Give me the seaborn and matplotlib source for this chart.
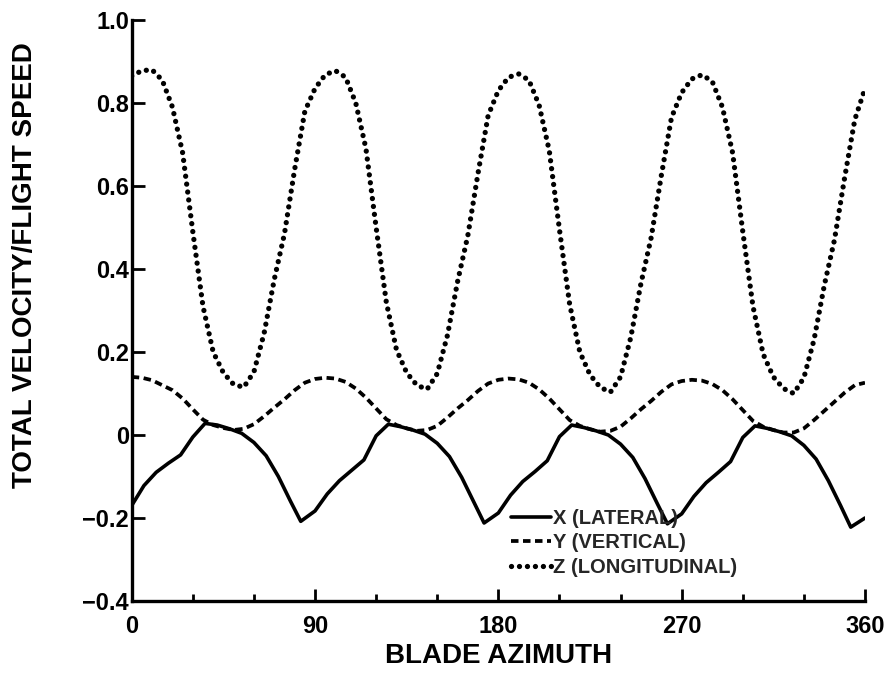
import matplotlib
matplotlib.use("Agg")
import matplotlib.pyplot as plt
import numpy as np
import pandas as pd
import seaborn as sns

# Blade azimuth (deg) for the Y and Z components, 5-degree spacing
azimuth_yz = list(range(0, 361, 5))

# Z (longitudinal) component
z_long = [
    0.865, 0.878, 0.880, 0.855, 0.790, 0.680, 0.490, 0.310, 0.200, 0.150,
    0.122, 0.115, 0.152, 0.245, 0.375, 0.485, 0.640, 0.780,
    0.835, 0.868, 0.878, 0.862, 0.800, 0.690, 0.500, 0.320, 0.205, 0.150,
    0.120, 0.110, 0.148, 0.240, 0.370, 0.480, 0.630, 0.770,
    0.830, 0.862, 0.870, 0.855, 0.795, 0.685, 0.495, 0.315, 0.200, 0.145,
    0.115, 0.103, 0.140, 0.235, 0.365, 0.475, 0.625, 0.765,
    0.825, 0.858, 0.868, 0.852, 0.790, 0.680, 0.490, 0.310, 0.195, 0.140,
    0.112, 0.100, 0.138, 0.230, 0.360, 0.470, 0.620, 0.760,
    0.835,
]

# Y (vertical) component
y_vert = [
    0.140, 0.138, 0.132, 0.120, 0.108, 0.088, 0.062, 0.037, 0.024, 0.017,
    0.012, 0.015, 0.026, 0.045, 0.066, 0.086, 0.108, 0.126,
    0.135, 0.138, 0.136, 0.128, 0.112, 0.090, 0.064, 0.038, 0.024, 0.016,
    0.010, 0.012, 0.022, 0.042, 0.064, 0.084, 0.106, 0.124,
    0.133, 0.136, 0.134, 0.126, 0.110, 0.088, 0.062, 0.036, 0.022, 0.014,
    0.008, 0.010, 0.020, 0.040, 0.062, 0.082, 0.104, 0.122,
    0.130, 0.133, 0.131, 0.123, 0.108, 0.086, 0.060, 0.034, 0.020, 0.012,
    0.006, 0.006, 0.016, 0.036, 0.058, 0.080, 0.102, 0.120,
    0.126,
]

# X (lateral) component, sampled with its sharp minima
azimuth_x = [
    0, 6, 12, 18, 24, 30, 36, 42, 48, 54, 60, 66, 72, 78, 83,
    90, 96, 102, 108, 114, 120, 126, 132, 138, 144, 150, 156, 162, 168, 173,
    180, 186, 192, 198, 204, 210, 216, 222, 228, 234, 240, 246, 252, 258, 263,
    270, 276, 282, 288, 294, 300, 306, 312, 318, 324, 330, 336, 342, 348, 353,
    360,
]
x_lat = [
    -0.170, -0.122, -0.090, -0.068, -0.048, -0.005, 0.028, 0.024, 0.015, 0.004,
    -0.018, -0.050, -0.100, -0.160, -0.208,
    -0.183, -0.142, -0.110, -0.085, -0.060, -0.002, 0.026, 0.020, 0.012, 0.002,
    -0.020, -0.052, -0.102, -0.162, -0.212,
    -0.188, -0.145, -0.112, -0.088, -0.062, -0.004, 0.024, 0.018, 0.010, 0.000,
    -0.022, -0.054, -0.105, -0.165, -0.214,
    -0.190, -0.148, -0.115, -0.090, -0.064, -0.006, 0.022, 0.016, 0.008, -0.002,
    -0.025, -0.058, -0.110, -0.170, -0.222,
    -0.200,
]

series_labels = ["X (LATERAL)", "Y (VERTICAL)", "Z (LONGITUDINAL)"]
x_ticks = [0, 90, 180, 270, 360]
y_ticks = [-0.4, -0.2, 0.0, 0.2, 0.4, 0.6, 0.8, 1.0]
y_tick_labels = ["\u22120.4", "\u22120.2", "0", "0.2", "0.4", "0.6", "0.8", "1.0"]

sns.set_theme(style="ticks")
plt.rcParams["font.family"] = ["Liberation Sans", "DejaVu Sans"]
plt.rcParams["font.weight"] = "bold"

fig = plt.figure(figsize=(8.9, 6.76), dpi=100)
ax = fig.add_axes([131.7 / 890, 1 - 601 / 676, (865 - 131.7) / 890, (601 - 20) / 676])

df_x = pd.DataFrame({"azimuth": azimuth_x, "value": x_lat})
df_yz = pd.DataFrame({"azimuth": azimuth_yz, "y": y_vert, "z": z_long})

sns.lineplot(data=df_x, x="azimuth", y="value", ax=ax, color="black",
             linewidth=2.6, label=series_labels[0])
sns.lineplot(data=df_yz, x="azimuth", y="y", ax=ax, color="black",
             linewidth=2.7, linestyle=(0, (2.0, 1.2)), label=series_labels[1])
sns.lineplot(data=df_yz, x="azimuth", y="z", ax=ax, color="black",
             linewidth=3.8, linestyle=(0, (0.01, 1.5)),
             dash_capstyle="round", label=series_labels[2])

ax.set_xlim(0, 360)
ax.set_ylim(-0.4, 1.0)
ax.set_xticks(x_ticks)
ax.set_xticks(list(range(30, 360, 30)), minor=True)
ax.set_yticks(y_ticks)
ax.set_yticklabels(y_tick_labels)

for side in ("top", "right"):
    ax.spines[side].set_visible(False)
for side in ("left", "bottom"):
    ax.spines[side].set_linewidth(2.4)
    ax.spines[side].set_color("black")

ax.tick_params(axis="both", which="major", direction="in", length=9, width=2.0,
               colors="black", labelsize=17)
ax.tick_params(axis="x", which="major", pad=10)
ax.tick_params(axis="y", which="major", pad=2)
ax.tick_params(axis="x", which="minor", direction="in", length=5, width=2.0,
               colors="black")

ax.set_xlabel("BLADE AZIMUTH", fontsize=20, color="black", labelpad=4,
              fontweight="bold")
ax.set_ylabel("TOTAL VELOCITY/FLIGHT SPEED", fontsize=20, color="black",
              fontweight="bold")
ax.yaxis.set_label_coords(-0.128, 0.578)

leg = ax.legend(loc="center left", bbox_to_anchor=(0.517, 0.10), frameon=False,
                prop={"size": 14.5, "weight": "bold"}, handlelength=2.0,
                handletextpad=0.1, labelspacing=0.28, borderpad=0,
                borderaxespad=0)

fig.savefig("out.png", dpi=100, facecolor="white")
